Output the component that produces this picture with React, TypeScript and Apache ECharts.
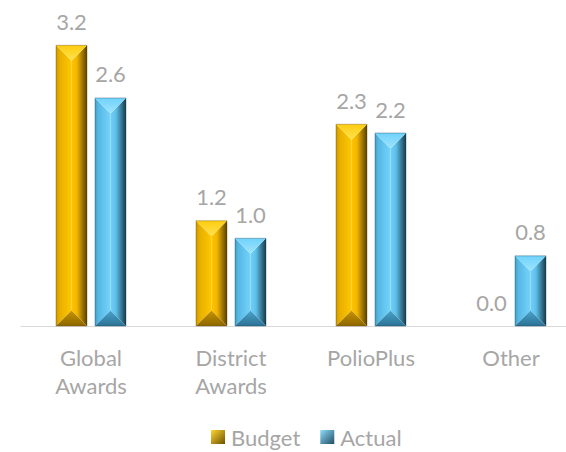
import React, { useEffect, useRef } from "react";
import * as echarts from "echarts";

const categories = ["Global\nAwards", "District\nAwards", "PolioPlus", "Other"];
const budget = [3.2, 1.2, 2.3, 0.0];
const actual = [2.6, 1.0, 2.2, 0.8];
const seriesNames = ["Budget", "Actual"];

const FONT = "Lato, 'Open Sans', sans-serif";
const LABEL_COLOR = "#a6a6a6";
const BAR_RATIO = 31 / 140;
const OFFSET = 19.5 / 140;

type Stops = [number, string][];
type Pal = { top: Stops; left: Stops; right: Stops; bottom: Stops; edge: string };

const gold: Pal = {
  top: [[0, "#ffe24d"], [1, "#ffcc10"]],
  left: [[0, "#c99600"], [0.2, "#e6ad00"], [1, "#ffc800"]],
  right: [[0, "#ffc600"], [0.35, "#f2b600"], [1, "#5a4100"]],
  bottom: [[0, "#c79300"], [1, "#8d6700"]],
  edge: "rgba(90,65,0,0.5)",
};
const blue: Pal = {
  top: [[0, "#9fe4ff"], [1, "#70d2fb"]],
  left: [[0, "#3f9cc6"], [0.2, "#55b8e2"], [1, "#74d3fd"]],
  right: [[0, "#72d0fa"], [0.35, "#5dc0ea"], [1, "#183a4a"]],
  bottom: [[0, "#4aa3cb"], [1, "#2c7295"]],
  edge: "rgba(20,60,80,0.5)",
};

function lg(x0: number, y0: number, x1: number, y1: number, c: Stops) {
  return new echarts.graphic.LinearGradient(
    x0,
    y0,
    x1,
    y1,
    c.map(([offset, color]) => ({ offset, color }))
  );
}

function makeRender(offset: number, pal: Pal) {
  return (params: any, api: any) => {
    const ci = api.value(0);
    const v = api.value(1);
    const base = api.coord([ci, 0]);
    const top = api.coord([ci, v]);
    const band = api.size([1, 0])[0];
    const w = band * BAR_RATIO;
    const cx = base[0] + band * offset;
    const x0 = cx - w / 2;
    const x1 = cx + w / 2;
    const y0 = top[1];
    const y1 = base[1];
    const h = y1 - y0;
    const children: any[] = [];
    if (h > 0.5) {
      const b = Math.min(w / 2, h / 2);
      children.push(
        {
          type: "polygon",
          shape: { points: [[x0, y0], [cx, y0 + b], [cx, y1 - b], [x0, y1]] },
          style: { fill: lg(0, 0, 1, 0, pal.left) },
        },
        {
          type: "polygon",
          shape: { points: [[x1, y0], [cx, y0 + b], [cx, y1 - b], [x1, y1]] },
          style: { fill: lg(0, 0, 1, 0, pal.right) },
        },
        {
          type: "polygon",
          shape: { points: [[x0, y0], [x1, y0], [cx, y0 + b]] },
          style: { fill: lg(0, 1, 0, 0, pal.top) },
        },
        {
          type: "polygon",
          shape: { points: [[x0, y1], [x1, y1], [cx, y1 - b]] },
          style: { fill: lg(0, 0, 0, 1, pal.bottom) },
        },
        {
          type: "rect",
          shape: { x: x0, y: y0, width: w, height: h },
          style: { fill: "none", stroke: pal.edge, lineWidth: 0.7 },
        }
      );
    }
    children.push({
      type: "text",
      x: cx,
      y: y0 - 24,
      style: {
        text: Number(v).toFixed(1),
        fill: LABEL_COLOR,
        font: `22px ${FONT}`,
        align: "center",
        verticalAlign: "middle",
      },
    });
    return { type: "group", children };
  };
}

export default function App() {
  const ref = useRef<HTMLDivElement>(null);
  useEffect(() => {
    if (!ref.current) return;
    const chart = echarts.init(ref.current, null, { renderer: "svg" });
    const mk = (vals: number[]) => vals.map((v, i) => [i, v]);
    chart.setOption({
      animation: false,
      backgroundColor: "#ffffff",
      grid: {
        left: 21,
        width: 560,
        top: 19,
        bottom: 126,
        containLabel: false,
        outerBoundsMode: "none",
      },
      legend: {
        left: 206,
        top: 421,
        itemWidth: 14,
        itemHeight: 14,
        itemGap: 20,
        textStyle: {
          color: LABEL_COLOR,
          fontSize: 22,
          fontFamily: FONT,
          padding: [0, 0, 0, 1],
        },
        data: [
          {
            name: seriesNames[0],
            icon: "rect",
            itemStyle: { color: lg(0, 0, 1, 1, [[0, "#ffd633"], [1, "#6e5100"]]) },
          },
          {
            name: seriesNames[1],
            icon: "rect",
            itemStyle: { color: lg(0, 0, 1, 1, [[0, "#8fdcfb"], [1, "#1f4d63"]]) },
          },
        ],
      },
      xAxis: {
        type: "category",
        data: categories,
        axisLine: { lineStyle: { color: "#d9d9d9", width: 1 } },
        axisTick: { show: false },
        axisLabel: {
          color: LABEL_COLOR,
          fontSize: 22,
          fontFamily: FONT,
          lineHeight: 28,
          margin: 17,
        },
      },
      yAxis: {
        type: "value",
        min: 0,
        max: 3.5,
        show: false,
        splitLine: { show: false },
      },
      series: [
        {
          name: seriesNames[0],
          type: "custom",
          renderItem: makeRender(-OFFSET, gold),
          encode: { x: 0, y: 1 },
          itemStyle: { color: "#ffc000" },
          data: mk(budget),
          clip: false,
        },
        {
          name: seriesNames[1],
          type: "custom",
          renderItem: makeRender(OFFSET, blue),
          encode: { x: 0, y: 1 },
          itemStyle: { color: "#5bc4ee" },
          data: mk(actual),
          clip: false,
        },
      ],
    });
    return () => chart.dispose();
  }, []);
  return (
    <div
      ref={ref}
      style={{ position: "absolute", left: 0, top: 0, width: 566, height: 452 }}
    />
  );
}
